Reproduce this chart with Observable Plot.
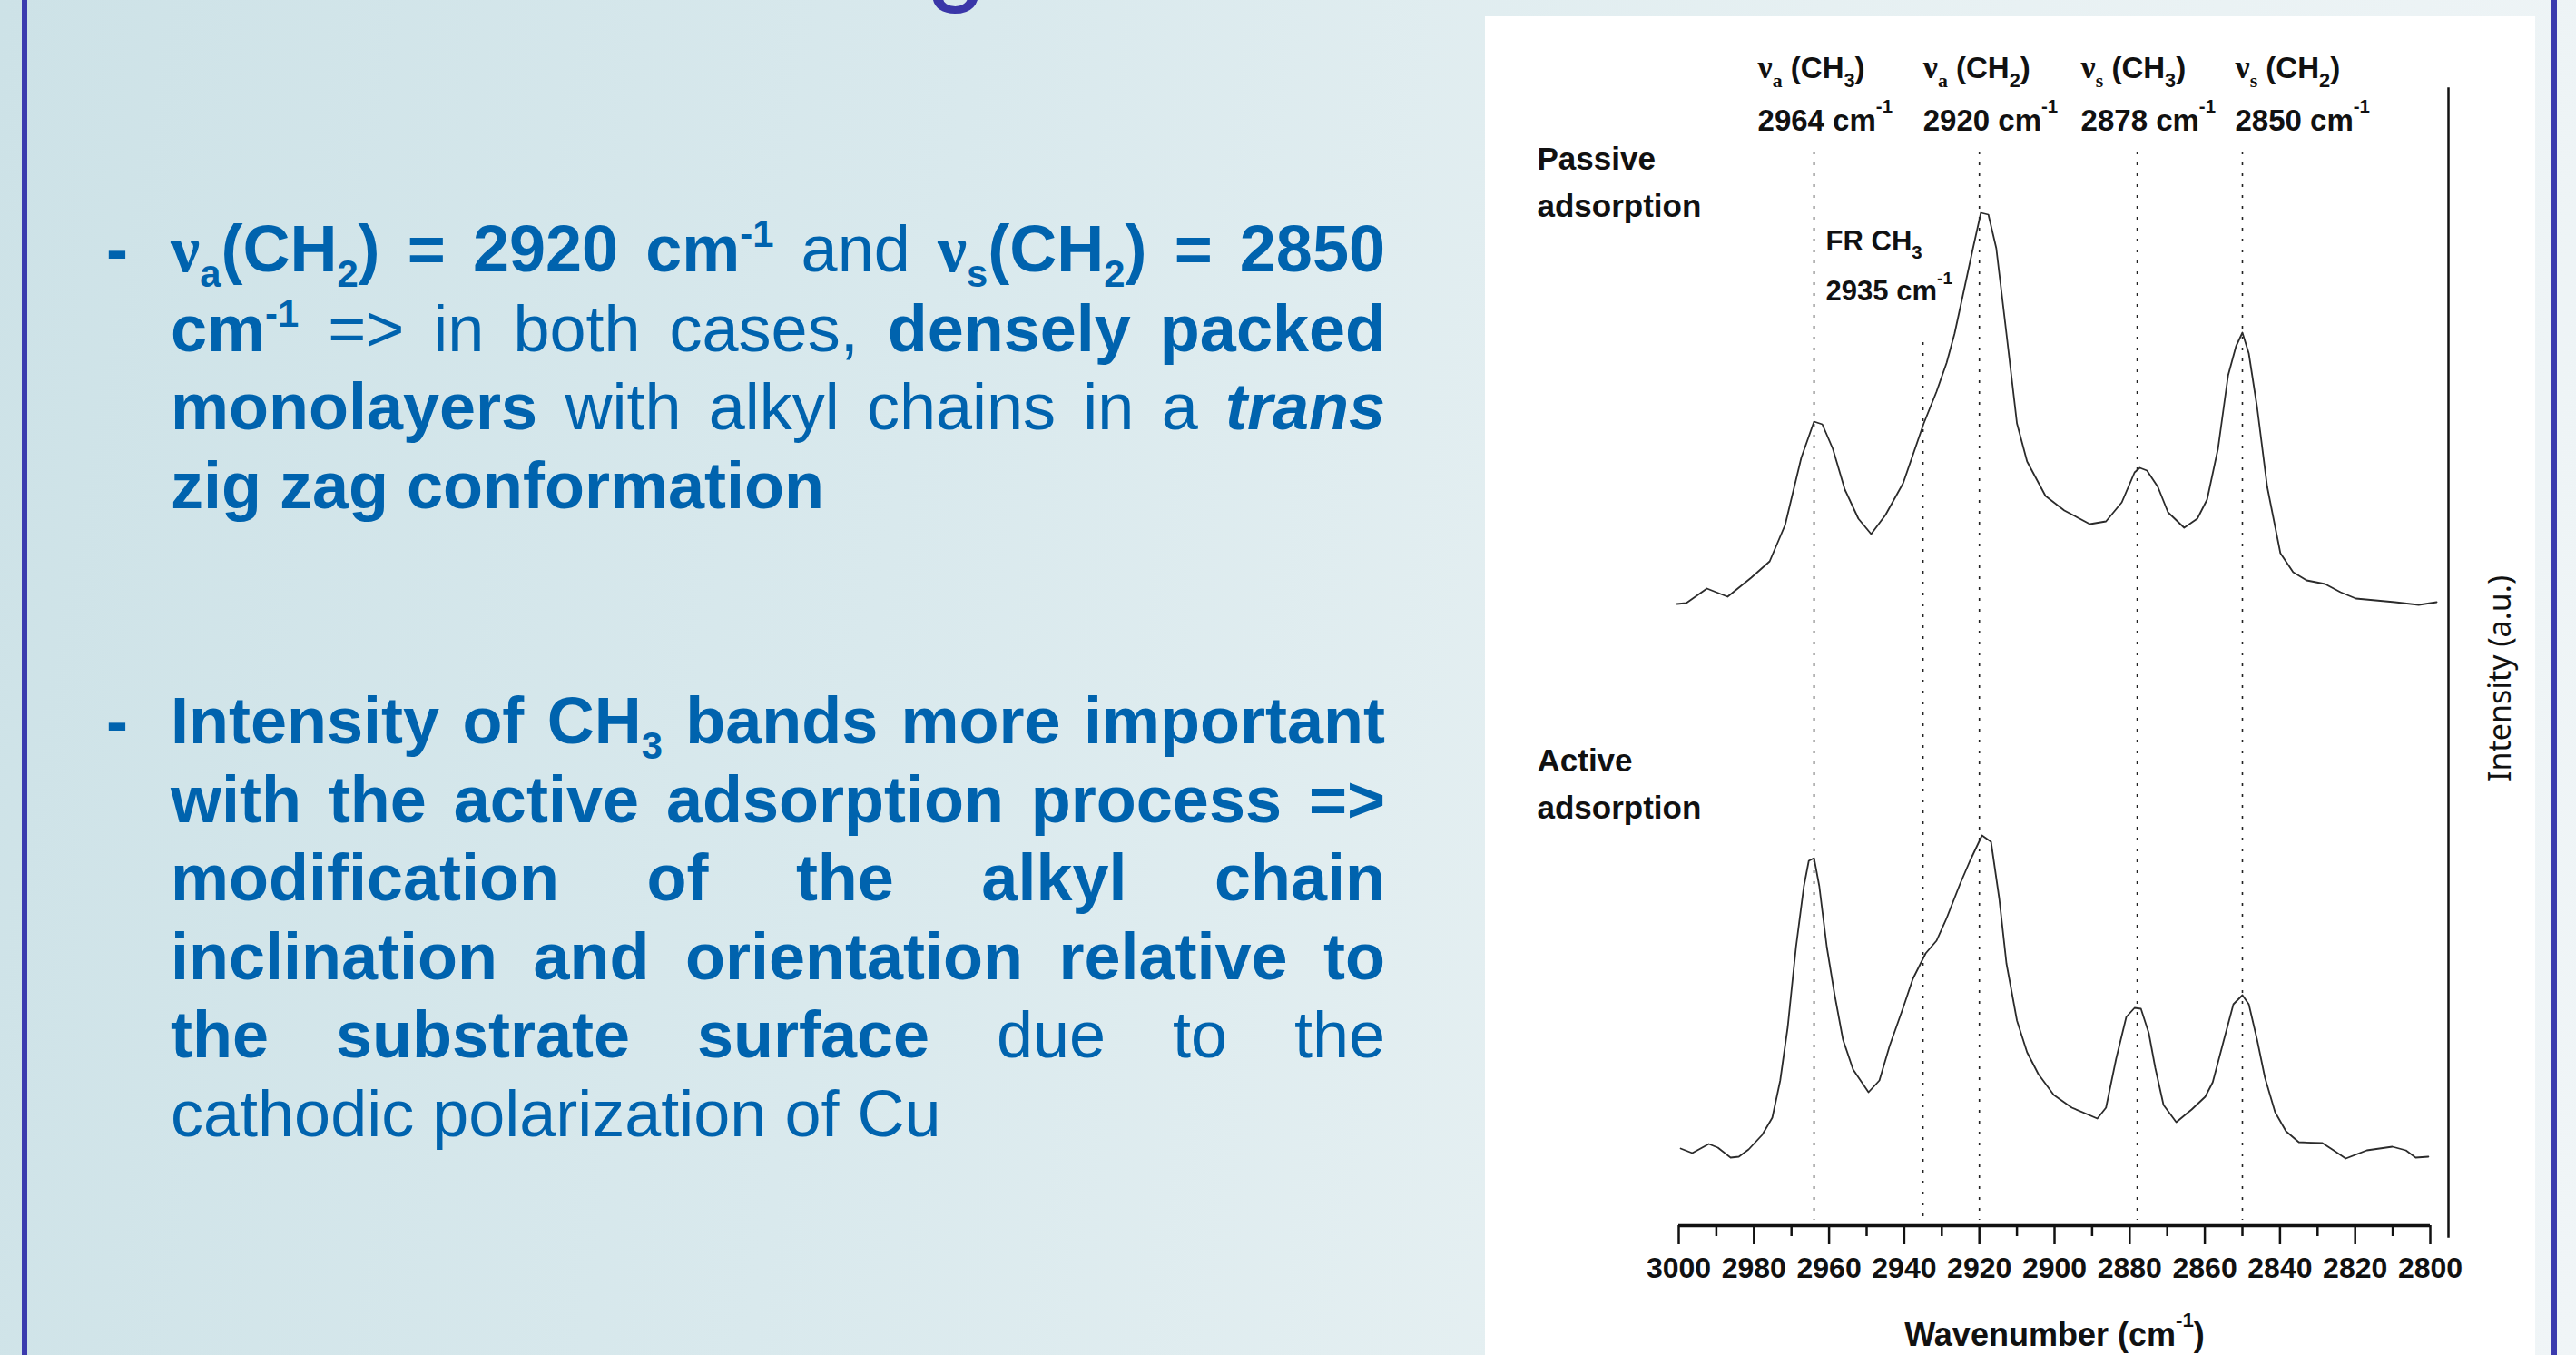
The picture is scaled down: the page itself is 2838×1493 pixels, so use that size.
<!DOCTYPE html>
<html>
<head>
<meta charset="utf-8">
<script src="https://cdn.jsdelivr.net/npm/d3@7"></script>
<script src="https://cdn.jsdelivr.net/npm/@observablehq/plot@0.6"></script>
<style>
  html, body { margin: 0; padding: 0; }
  body {
    width: 2838px; height: 1493px; position: relative; overflow: hidden;
    background: linear-gradient(100deg, #cde2e7 0%, #d9e9ed 35%, #e6f0f2 65%, #f0f5f7 100%);
    font-family: "Liberation Sans", Arial, sans-serif;
  }
  .rule-left  { position: absolute; left: 24px;   top: 0; width: 6px; height: 1493px; background: #3b3bae; }
  .rule-right { position: absolute; left: 2811px; top: 0; width: 6px; height: 1493px; background: #3b3bae; }
  .title-tail {
    position: absolute; left: 1020px; top: -112px; font-size: 120px; line-height: 120px;
    color: #3a36a8; font-family: "Liberation Sans", Arial, sans-serif;
  }
  .para {
    position: absolute; left: 188px; width: 1338px;
    font-size: 72px; line-height: 86.6px; color: #0063ae;
  }
  .para .ln { white-space: nowrap; }
  .para .j { text-align: justify; text-align-last: justify; white-space: normal; }
  .para .dash { position: absolute; left: -71px; top: 0; font-weight: bold; }
  .para b { font-weight: bold; }
  .nu { font-family: "Liberation Serif", "Times New Roman", serif; }
  .para sub, .para sup { font-size: 0.58em; vertical-align: baseline; position: relative; line-height: 0; }
  .para sub { top: 17px; }
  .para sup { top: -27px; }
  #panel { position: absolute; left: 1636px; top: 18px; width: 1157px; height: 1475px; background: #ffffff; }
  #panel svg { position: absolute; left: 0; top: 0; overflow: visible; }
</style>
</head>
<body>
<div class="rule-left"></div>
<div class="rule-right"></div>
<div class="title-tail">g</div>

<div class="para" style="top:231px">
  <div class="dash">-</div>
  <div class="ln j"><b><span class="nu">ν</span><sub>a</sub>(CH<sub>2</sub>) = 2920 cm<sup>-1</sup></b> and <b><span class="nu">ν</span><sub>s</sub>(CH<sub>2</sub>) = 2850</b></div>
  <div class="ln j"><b>cm<sup>-1</sup></b> =&gt; in both cases, <b>densely packed</b></div>
  <div class="ln j"><b>monolayers</b> with alkyl chains in a <b><i>trans</i></b></div>
  <div class="ln"><b>zig zag conformation</b></div>
</div>

<div class="para" style="top:751px">
  <div class="dash">-</div>
  <div class="ln j"><b>Intensity of CH<sub>3</sub> bands more important</b></div>
  <div class="ln j"><b>with the active adsorption process =&gt;</b></div>
  <div class="ln j"><b>modification of the alkyl chain</b></div>
  <div class="ln j"><b>inclination and orientation relative to</b></div>
  <div class="ln j"><b>the substrate surface</b> due to the</div>
  <div class="ln">cathodic polarization of Cu</div>
</div>

<div id="panel"></div>

<script>
// IR spectra (C–H stretching region) of the monolayer, passive vs active adsorption.
const passiveWavenumber = [3000.5, 2998, 2992.5, 2987, 2980.7, 2975.8, 2971.7, 2967.4, 2964, 2961.8,
  2959, 2955.8, 2952.2, 2948.8, 2945, 2940.3, 2934.8, 2931.4, 2928.7, 2926.6,
  2924.4, 2921.7, 2919.6, 2917.6, 2915.5, 2912.8, 2910, 2907.3, 2902.4, 2897.4,
  2890.6, 2886.3, 2882.1, 2878.7, 2877.3, 2875.4, 2872.5, 2869.8, 2865.5, 2862,
  2859.4, 2856.5, 2853.8, 2851.7, 2850, 2848.3, 2846.1, 2843.4, 2839.9, 2836.5,
  2832.9, 2828, 2823.9, 2819.8, 2809.4, 2803.1, 2798.3];
const passiveIntensity = [0.85, 0.86, 1.02, 0.93, 1.14, 1.32, 1.72, 2.46, 2.86, 2.83,
  2.56, 2.11, 1.79, 1.62, 1.83, 2.18, 2.84, 3.19, 3.51, 3.83,
  4.25, 4.77, 5.16, 5.14, 4.77, 3.83, 2.84, 2.42, 2.04, 1.88,
  1.73, 1.76, 1.97, 2.30, 2.35, 2.32, 2.14, 1.86, 1.69, 1.79,
  2.00, 2.56, 3.37, 3.69, 3.84, 3.61, 3.02, 2.14, 1.41, 1.20,
  1.11, 1.07, 0.98, 0.91, 0.87, 0.84, 0.87];

const activeWavenumber = [2999.5, 2996.4, 2992, 2989.6, 2986.2, 2984, 2981.4, 2977.8, 2975.1, 2973,
  2971, 2968.8, 2966.7, 2965.4, 2964, 2962.6, 2960.6, 2958.5, 2956.3, 2953.6,
  2949.5, 2946.6, 2943.9, 2940.3, 2937.7, 2934.3, 2931.4, 2928.7, 2925.1, 2922.5,
  2919.3, 2916.9, 2914.7, 2912.8, 2910, 2907.3, 2904.3, 2900.2, 2895.4, 2888.6,
  2886.3, 2883.6, 2880.9, 2878.7, 2877, 2874.9, 2873.2, 2871, 2867.6, 2863.5,
  2859.9, 2857.9, 2855.1, 2852.4, 2850, 2848.3, 2846.1, 2844, 2841.3, 2838.4,
  2835, 2828.7, 2826.1, 2822.5, 2816.9, 2810.1, 2806.5, 2803.9, 2800.5];
const activeIntensity = [0.85, 0.80, 0.90, 0.86, 0.75, 0.76, 0.84, 1.00, 1.19, 1.60,
  2.19, 3.07, 3.74, 4.02, 4.05, 3.74, 3.07, 2.54, 2.05, 1.72,
  1.47, 1.60, 1.98, 2.40, 2.72, 3.00, 3.14, 3.39, 3.77, 4.02,
  4.30, 4.23, 3.60, 2.89, 2.26, 1.91, 1.67, 1.44, 1.30, 1.18,
  1.30, 1.84, 2.30, 2.40, 2.39, 2.12, 1.74, 1.33, 1.14, 1.28,
  1.42, 1.58, 2.02, 2.44, 2.54, 2.44, 2.05, 1.63, 1.25, 1.04,
  0.92, 0.91, 0.84, 0.74, 0.83, 0.87, 0.83, 0.75, 0.76];

// vertical stacking of the passive spectrum above the active one (a.u.)
const passiveOffset = 6.0;

// assigned C–H stretching bands
const bandPositions = [2964, 2920, 2878, 2850];
const bandModes = ["ν_{a} (CH_{3})", "ν_{a} (CH_{2})", "ν_{s} (CH_{3})", "ν_{s} (CH_{2})"];
const fermiPosition = 2935;
const fermiMode = "FR CH_{3}";

const spectrumNames = ["Passive\nadsorption", "Active\nadsorption"];
const xTickLabels = [3000, 2980, 2960, 2940, 2920, 2900, 2880, 2860, 2840, 2820, 2800];
const xMinorTicks = [2990, 2970, 2950, 2930, 2910, 2890, 2870, 2850, 2830, 2810];
const xTitle = "Wavenumber (cm^{-1})";
const yTitle = "Intensity (a.u.)";

const passive = passiveWavenumber.map((wn, i) => ({wn, value: passiveIntensity[i] + passiveOffset}));
const active = activeWavenumber.map((wn, i) => ({wn, value: activeIntensity[i]}));
const bands = bandPositions.map((wn, i) => ({wn, text: `${bandModes[i]}\n${wn} cm^{-1}`}));

const ink = "#111";
const dotted = {stroke: "#222", strokeWidth: 1.6, strokeDasharray: "3,9"};

const chart = Plot.plot({
  width: 1157,
  height: 1475,
  marginLeft: 213,
  marginRight: 116,
  marginTop: 79,
  marginBottom: 143,
  x: {domain: [2800, 3000], reverse: true, label: null},
  y: {domain: [0, 12.53], axis: null, label: null},
  style: {
    background: "transparent",
    fontFamily: "'Liberation Sans', Arial, sans-serif",
    fontWeight: "bold",
    color: ink,
    overflow: "visible"
  },
  marks: [
    // band guides
    Plot.ruleX(bandPositions, {x: d => d, ...dotted, insetTop: 70, insetBottom: 6}),
    Plot.ruleX([fermiPosition], {x: d => d, ...dotted, insetTop: 280, insetBottom: 6}),
    // wavenumber axis: baseline, labelled ticks every 20, short ticks in between
    Plot.ruleY([0], {stroke: ink, strokeWidth: 3.5}),
    Plot.axisX({ticks: xTickLabels, tickSize: 21, tickPadding: 14, strokeWidth: 2.5, stroke: ink,
      fontSize: 32, tickFormat: d => `${d}`, label: null}),
    Plot.axisX({ticks: xMinorTicks, tickSize: 12, strokeWidth: 2.5, stroke: ink, text: null, label: null}),
    // intensity axis line, set a little to the right of the spectra
    Plot.frame({anchor: "right", dx: 20, insetBottom: -12, stroke: ink, strokeWidth: 2.5}),
    // spectra
    Plot.line(passive, {x: "wn", y: "value", stroke: "#2b2b2b", strokeWidth: 1.8}),
    Plot.line(active, {x: "wn", y: "value", stroke: "#2b2b2b", strokeWidth: 1.8}),
    // band assignments
    Plot.text(bands.slice(0, 3), {x: "wn", text: "text", frameAnchor: "top", textAnchor: "start",
      lineAnchor: "bottom", lineHeight: 1.73, dx: -62, dy: 46, fontSize: 33}),
    Plot.text(bands.slice(3), {x: "wn", text: "text", frameAnchor: "top", textAnchor: "start",
      lineAnchor: "bottom", lineHeight: 1.73, dx: -8, dy: 46, fontSize: 33}),
    Plot.text([fermiPosition], {x: d => d, text: d => `${fermiMode}\n${d} cm^{-1}`, frameAnchor: "top",
      textAnchor: "start", lineAnchor: "bottom", lineHeight: 1.75, dx: -107, dy: 233, fontSize: 31}),
    // spectrum names
    Plot.text([spectrumNames[0]], {text: d => d, frameAnchor: "top-left", textAnchor: "start",
      lineAnchor: "bottom", lineHeight: 1.46, dx: -156, dy: 141, fontSize: 35}),
    Plot.text([spectrumNames[1]], {text: d => d, frameAnchor: "top-left", textAnchor: "start",
      lineAnchor: "bottom", lineHeight: 1.46, dx: -156, dy: 804, fontSize: 35}),
    // axis titles
    Plot.text([xTitle], {text: d => d, frameAnchor: "bottom", textAnchor: "middle", lineAnchor: "bottom",
      dy: 132, fontSize: 36}),
    Plot.text([yTitle], {text: d => d, frameAnchor: "right", textAnchor: "middle", lineAnchor: "middle",
      rotate: -90, dx: 78, dy: 23.5, fontSize: 34, fontWeight: "normal",
      fontFamily: "'Noto Sans', 'Open Sans', sans-serif"})
  ]
});

document.getElementById("panel").appendChild(chart);

// Turn the _{…} / ^{…} markup into real subscripts and superscripts,
// and set the Greek ν in a serif face.
function richText(root) {
  const NS = "http://www.w3.org/2000/svg";
  const serif = "'Liberation Serif', 'Times New Roman', serif";
  root.querySelectorAll("text, tspan").forEach(el => {
    if (el.children.length) return;
    const s = el.textContent;
    if (!/[_^]\{|ν/.test(s)) return;
    const fs = parseFloat(getComputedStyle(el).fontSize);
    el.textContent = "";
    const re = /([_^])\{([^}]*)\}|(ν)|([^_^ν]+)/g;
    let m, carry = 0, prevNu = false;
    const add = (str, shift, attrs = {}) => {
      const t = document.createElementNS(NS, "tspan");
      t.textContent = str;
      for (const [k, v] of Object.entries(attrs)) t.setAttribute(k, v);
      const dy = shift - carry;
      if (dy) t.setAttribute("dy", dy);
      carry = shift;
      el.appendChild(t);
    };
    while ((m = re.exec(s))) {
      if (m[1]) {
        const sub = m[1] === "_";
        const attrs = {"font-size": `${(sub ? 0.66 : 0.62) * fs}px`};
        if (prevNu) attrs["font-family"] = serif;
        add(m[2], sub ? 0.28 * fs : -0.58 * fs, attrs);
        prevNu = false;
      } else if (m[3]) {
        add("ν", 0, {"font-family": serif, "font-size": `${1.1 * fs}px`});
        prevNu = true;
      } else {
        add(m[4], 0);
        prevNu = false;
      }
    }
    // a line that ends shifted: take the shift back on the next line's offset
    const next = el.nextElementSibling;
    if (carry && next && next.tagName === "tspan") {
      const d = next.getAttribute("dy");
      if (d && d.endsWith("em")) next.setAttribute("dy", parseFloat(d) * fs - carry);
    }
  });
}
richText(chart);
</script>
</body>
</html>
